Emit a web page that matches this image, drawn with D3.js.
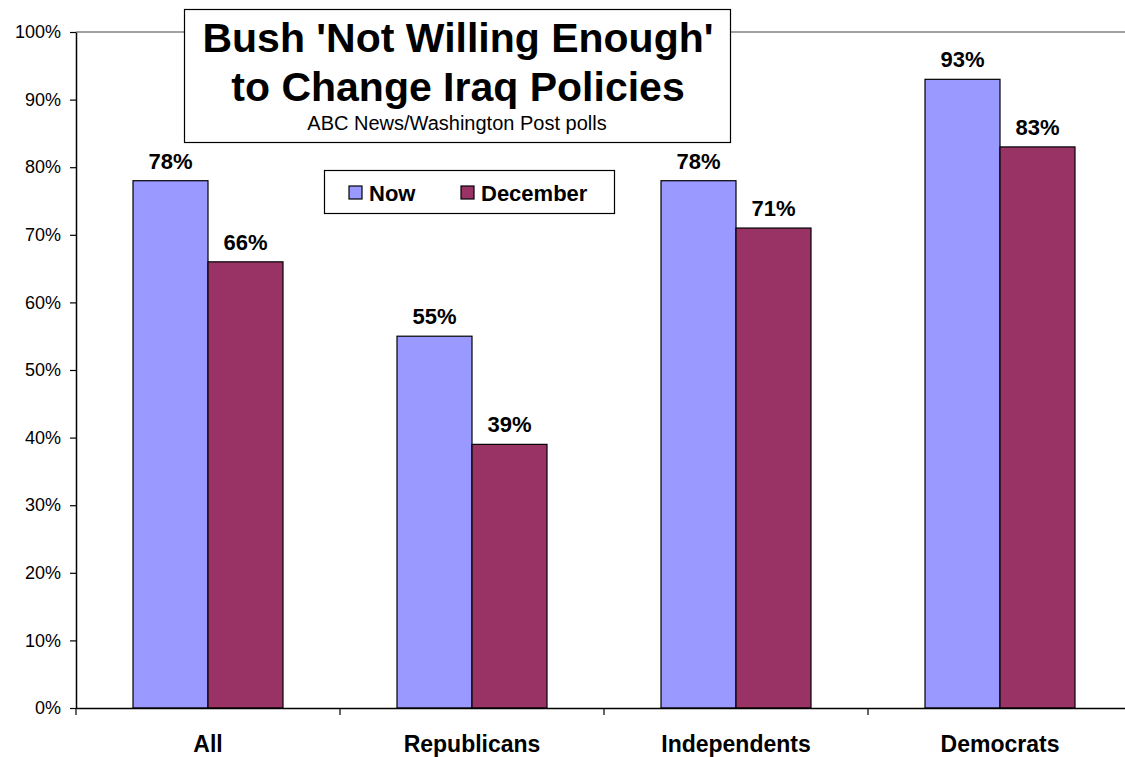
<!DOCTYPE html>
<html><head><meta charset="utf-8">
<script src="https://cdn.jsdelivr.net/npm/d3@7"></script>
<style>body{margin:0;background:#fff}svg{display:block}text{font-family:Arial,"Liberation Sans",sans-serif}</style>
</head><body><svg id="c" width="1125" height="757"></svg>
<script>
const categories = ["All","Republicans","Independents","Democrats"];
const seriesNames = ["Now","December"];
const nowValues = [78,55,78,93];
const decemberValues = [66,39,71,83];
const yTicks = [0,10,20,30,40,50,60,70,80,90,100];
const colors = ["#9999FF","#993366"];

const svg = d3.select("#c");
const L=76, R=1132, T=32, B=708;
const x = d3.scaleBand().domain(categories).range([L,R]).paddingInner(0).paddingOuter(0);
const x1 = d3.scaleBand().domain(seriesNames).range([0,x.bandwidth()]).paddingInner(0).paddingOuter(0.76);
const y = d3.scaleLinear().domain([0,100]).range([B,T]);

// plot border top
svg.append("line").attr("x1",L).attr("x2",R).attr("y1",T).attr("y2",T).attr("stroke","#808080").attr("stroke-width",1.5);

const data = categories.map((c,i)=>({cat:c, vals:[nowValues[i],decemberValues[i]]}));
const g = svg.append("g");
data.forEach(d=>{
  d.vals.forEach((v,j)=>{
    const xx = x(d.cat)+x1(seriesNames[j]);
    g.append("rect").attr("x",xx).attr("y",y(v)).attr("width",x1.bandwidth()).attr("height",B-y(v))
      .attr("fill",colors[j]).attr("stroke","#000").attr("stroke-width",1.2);
    g.append("text").attr("x",xx+x1.bandwidth()/2).attr("y",y(v)-12).attr("text-anchor","middle")
      .attr("font-size",22).attr("font-weight","bold").text(v+"%");
  });
});

// y axis
const ya = svg.append("g").attr("transform",`translate(${L},0)`)
  .call(d3.axisLeft(y).tickValues(yTicks).tickFormat(d=>d+"%").tickSize(6).tickSizeOuter(0));
ya.select(".domain").attr("stroke","#000").attr("stroke-width",1.5);
ya.selectAll(".tick line").attr("stroke","#000").attr("stroke-width",1.2);
ya.selectAll(".tick text").attr("font-size",18).attr("font-family","Arial,'Liberation Sans',sans-serif").attr("fill","#000").attr("x",-15);

// x axis
const xa = svg.append("g").attr("transform",`translate(0,${B})`)
  .call(d3.axisBottom(x).tickSize(0).tickSizeOuter(0));
xa.select(".domain").attr("stroke","#000").attr("stroke-width",1.5);
xa.selectAll(".tick text").attr("font-size",23).attr("font-weight","bold").attr("font-family","Arial,'Liberation Sans',sans-serif").attr("fill","#000").attr("dy",0).attr("y",44);
// category separators
const seps = categories.map(c=>x(c));
svg.selectAll(".sep").data(seps).enter().append("line").attr("x1",d=>d).attr("x2",d=>d).attr("y1",B).attr("y2",B+7).attr("stroke","#000").attr("stroke-width",1.2);

// title box
svg.append("rect").attr("x",184.5).attr("y",9.5).attr("width",546).attr("height",133).attr("fill","#fff").attr("stroke","#000").attr("stroke-width",1.2);
svg.append("text").attr("x",458).attr("y",52).attr("text-anchor","middle").attr("font-size",41).attr("font-weight","bold").text("Bush 'Not Willing Enough'");
svg.append("text").attr("x",458).attr("y",101).attr("text-anchor","middle").attr("font-size",41).attr("font-weight","bold").text("to Change Iraq Policies");
svg.append("text").attr("x",457).attr("y",130).attr("text-anchor","middle").attr("font-size",20).text("ABC News/Washington Post polls");

// legend
svg.append("rect").attr("x",324.5).attr("y",170.5).attr("width",290).attr("height",43).attr("fill","#fff").attr("stroke","#000").attr("stroke-width",1.2);
const legX=[349,461];
seriesNames.forEach((s,i)=>{
  svg.append("rect").attr("x",legX[i]).attr("y",186).attr("width",13).attr("height",13).attr("fill",colors[i]).attr("stroke","#000").attr("stroke-width",1.2);
  svg.append("text").attr("x",legX[i]+20).attr("y",201).attr("font-size",22).attr("font-weight","bold").text(s);
});
</script></body></html>
